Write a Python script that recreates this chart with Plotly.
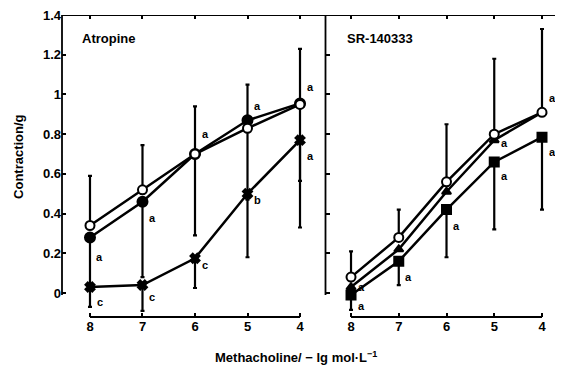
import plotly.graph_objects as go

# ---- data ----
conc = [8, 7, 6, 5, 4]                      # -lg mol/L
conc_labels = ["8", "7", "6", "5", "4"]

# Atropine panel
atr_ctrl = [0.34, 0.52, 0.70, 0.83, 0.95]   # open circles
atr_ctrl_up = [0.25, 0.225, 0.24, 0.22, 0.28]
atr_low = [0.28, 0.46, 0.70, 0.87, 0.955]   # filled circles
atr_low_dn = [0.25, 0.38, 0.41, 0.40, 0.39]
atr_high = [0.03, 0.04, 0.175, 0.50, 0.77]  # crosses
atr_high_dn = [0.10, 0.13, 0.15, 0.32, 0.44]

# SR-140333 panel
sr_ctrl = [0.08, 0.28, 0.56, 0.80, 0.91]    # open circles
sr_ctrl_up = [0.13, 0.14, 0.29, 0.38, 0.42]
sr_mid = [0.03, 0.22, 0.51, 0.77, 0.91]     # filled triangles
sr_high = [-0.01, 0.16, 0.42, 0.66, 0.785]  # filled squares
sr_high_dn = [0.075, 0.12, 0.24, 0.34, 0.365]

y_ticks = [0, 0.2, 0.4, 0.6, 0.8, 1.0, 1.2, 1.4]
y_tick_labels = ["0", "0.2", "0.4", "0.6", "0.8", "1", "1.2", "1.4"]

# significance letters: (x, y, text)
atr_letters = [(8, 0.18, "a"), (7, 0.38, "a"), (6, 0.80, "a"), (5, 0.94, "a"),
               (4, 1.04, "a"), (4, 0.69, "a"), (5, 0.47, "b"), (6, 0.14, "c"),
               (7, -0.02, "c"), (8, -0.045, "c")]
sr_letters = [(8, 0.03, "a"), (8, -0.065, "a"), (7, 0.08, "a"), (6, 0.34, "a"),
              (5, 0.755, "a"), (5, 0.59, "a"), (4, 0.98, "a"), (4, 0.71, "a")]

FONT = "Liberation Sans, Arial, sans-serif"
BLACK = "black"

fig = go.Figure()


def add_series(xaxis, yaxis, ys, symbol, fill, up=None, dn=None, size=9):
    err = None
    if up is not None or dn is not None:
        err = dict(type="data", symmetric=False,
                   array=up if up is not None else [0] * len(ys),
                   arrayminus=dn if dn is not None else [0] * len(ys),
                   color=BLACK, thickness=2.2, width=2)
    fig.add_trace(go.Scatter(
        x=conc, y=ys, xaxis=xaxis, yaxis=yaxis, mode="lines+markers",
        line=dict(color=BLACK, width=2.5),
        marker=dict(symbol=symbol, size=size, color=fill,
                    line=dict(color=BLACK, width=2)),
        error_y=err, showlegend=False, cliponaxis=False))


# Atropine
add_series("x", "y", atr_high, "x", BLACK, dn=atr_high_dn, size=8)
add_series("x", "y", atr_low, "circle", BLACK, dn=atr_low_dn, size=10)
add_series("x", "y", atr_ctrl, "circle", "white", up=atr_ctrl_up, size=9)
# SR-140333
add_series("x2", "y2", sr_high, "square", BLACK, dn=sr_high_dn, size=9)
add_series("x2", "y2", sr_mid, "triangle-up", BLACK, size=8)
add_series("x2", "y2", sr_ctrl, "circle", "white", up=sr_ctrl_up, size=9)

tickfont = dict(family=FONT, size=13, color=BLACK, weight="bold")
xcommon = dict(tickmode="array", tickvals=conc, ticktext=conc_labels,
               ticks="inside", ticklen=4, tickwidth=1.5, tickcolor=BLACK,
               mirror="ticks", showline=False, showgrid=False, zeroline=False,
               tickfont=tickfont)
YR = [-0.121, 1.4005]
# the page body adds an 8 px offset, so the figure is 8 px smaller
fig.update_layout(
    width=555, height=369,
    margin=dict(l=54, r=1, t=7, b=60),
    paper_bgcolor="white", plot_bgcolor="white",
    font=dict(family=FONT, color=BLACK),
    xaxis=dict(domain=[0, 0.526], range=[8.533, 3.524], anchor="y", **xcommon),
    xaxis2=dict(domain=[0.528, 1], range=[8.524, 3.581], anchor="y2", **xcommon),
    yaxis=dict(range=YR, anchor="x", tickmode="array",
               tickvals=y_ticks, ticktext=y_tick_labels, ticks="inside",
               ticklen=4, tickwidth=1.5, tickcolor=BLACK, showline=False,
               showgrid=False, zeroline=False, tickfont=tickfont,
               ticklabeloverflow="allow"),
    yaxis2=dict(range=YR, anchor="x2", matches="y",
                tickmode="array", tickvals=y_ticks, ticks="inside",
                ticklen=4, tickwidth=1.5, tickcolor=BLACK, mirror="ticks",
                showticklabels=False, showline=False, showgrid=False,
                zeroline=False),
)

# frame lines and detached x axes
lw = 1.8
shapes = [
    dict(type="line", xref="paper", yref="y", x0=0, x1=1, y0=1.4, y1=1.4),
    dict(type="line", xref="paper", yref="y", x0=0, x1=0, y0=-0.01, y1=1.4),
    dict(type="line", xref="paper", yref="y", x0=0.527, x1=0.527, y0=-0.01, y1=1.4),
    dict(type="line", xref="paper", yref="y", x0=0.999, x1=0.999, y0=-0.01, y1=1.4),
    dict(type="line", xref="x", yref="paper", x0=conc[0], x1=conc[-1], y0=0, y1=0),
    dict(type="line", xref="x2", yref="paper", x0=conc[0], x1=conc[-1], y0=0, y1=0),
]
for s in shapes:
    s["line"] = dict(color=BLACK, width=lw)
    fig.add_shape(**s)

lblfont = dict(family=FONT, size=11, color=BLACK, weight="bold")
for (xv, yv, t) in atr_letters:
    fig.add_annotation(x=xv, y=yv, xref="x", yref="y", text=t, showarrow=False,
                       xshift=10, font=lblfont)
for (xv, yv, t) in sr_letters:
    fig.add_annotation(x=xv, y=yv, xref="x2", yref="y2", text=t, showarrow=False,
                       xshift=10, font=lblfont)

# panel titles
titlefont = dict(family=FONT, size=13, color=BLACK, weight="bold")
fig.add_annotation(text="Atropine", xref="paper", yref="y", x=0.036, y=1.28,
                   xanchor="left", showarrow=False, font=titlefont)
fig.add_annotation(text="SR-140333", xref="paper", yref="y", x=0.566, y=1.28,
                   xanchor="left", showarrow=False, font=titlefont)

# axis titles
fig.add_annotation(text="Contraction/g", xref="paper", yref="paper",
                   x=-0.086, y=0.53, xanchor="center", textangle=-90,
                   showarrow=False, font=titlefont)
fig.add_annotation(text="Methacholine/ − lg mol·L<sup>−1</sup>", xref="paper",
                   yref="paper", x=0.468, y=-0.132, yanchor="middle",
                   showarrow=False, font=titlefont)

fig.write_html("out.html")
